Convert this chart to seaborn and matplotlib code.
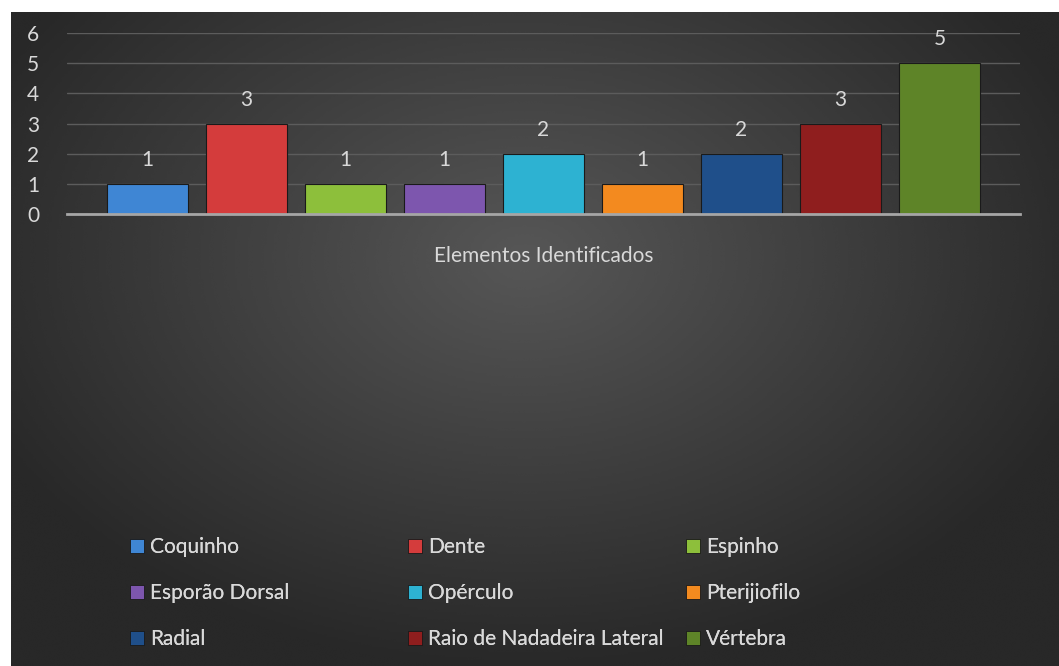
import numpy as np
import pandas as pd
import matplotlib.pyplot as plt
import matplotlib.patches as mpatches
import seaborn as sns

# Data
categoria = "Elementos Identificados"
elementos = ["Coquinho", "Dente", "Espinho", "Esporão Dorsal", "Opérculo",
             "Pterijiofilo", "Radial", "Raio de Nadadeira Lateral", "Vértebra"]
quantidades = [1, 3, 1, 1, 2, 1, 2, 3, 5]
cores = ["#3f86d4", "#d43c3c", "#8dbf3b", "#7d56ae", "#2db2d2",
         "#f38a1f", "#1f4f8a", "#8f1e1e", "#5e8428"]
y_ticks = [0, 1, 2, 3, 4, 5, 6]

df = pd.DataFrame({"categoria": [categoria] * len(elementos),
                   "elemento": elementos,
                   "quantidade": quantidades})

sns.set_style("dark")
plt.rcParams["font.family"] = ["Lato", "DejaVu Sans"]
text_color = "#d9d9d9"

fig = plt.figure(figsize=(10.59, 6.66), dpi=100)
fig.patch.set_facecolor("white")

# dark radial gradient background (chart area)
bg = fig.add_axes([11 / 1059, 0, 1 - 11 / 1059, 1 - 12 / 666])
gx, gy = np.meshgrid(np.linspace(-1, 1, 400), np.linspace(-1, 1, 260))
r = np.sqrt((gx + 0.02) ** 2 + ((gy + 0.25) * 0.9) ** 2)
shade = np.clip(0.34 - 0.16 * r, 0.16, 0.34)
bg.imshow(shade, cmap="gray", vmin=0, vmax=1, aspect="auto", interpolation="bicubic")
bg.set_axis_off()

ax = fig.add_axes([67 / 1059, 1 - 214 / 666, 953 / 1059, 181 / 666])
ax.set_facecolor("none")

sns.barplot(data=df, x="categoria", y="quantidade", hue="elemento",
            palette=cores, width=0.935, gap=0.19, legend=False, ax=ax,
            edgecolor="#1a1a1a", linewidth=0.8, saturation=1)

for container in ax.containers:
    ax.bar_label(container, padding=10, color=text_color, fontsize=15)

ax.set_ylim(0, 6)
ax.set_yticks(y_ticks)
ax.grid(axis="y", color="#5c5c5c", linewidth=1)
ax.grid(axis="x", visible=False)
for s in ["top", "right", "left"]:
    ax.spines[s].set_visible(False)
ax.spines["bottom"].set_color("#a6a6a6")
ax.spines["bottom"].set_linewidth(2)
ax.tick_params(axis="y", length=0, pad=20, labelsize=15, labelcolor=text_color)
ax.tick_params(axis="x", length=0, pad=23, labelsize=15, labelcolor=text_color)
ax.set_xlabel("")
ax.set_ylabel("")

# legend in three evenly spaced columns, row-major order
handles = [mpatches.Patch(facecolor=c, edgecolor="#1a1a1a", linewidth=0.6) for c in cores]
col_x = [130, 408, 686]
for i, x in enumerate(col_x):
    leg = fig.legend(handles[i::3], elementos[i::3], loc="center left",
                     bbox_to_anchor=(x / 1059, 1 - 593 / 666), frameon=False,
                     fontsize=15, labelcolor=text_color, handlelength=0.67,
                     handleheight=0.67, handletextpad=0.3, labelspacing=1.25,
                     borderpad=0, borderaxespad=0)
    fig.add_artist(leg)

fig.savefig("out.png", dpi=100)
